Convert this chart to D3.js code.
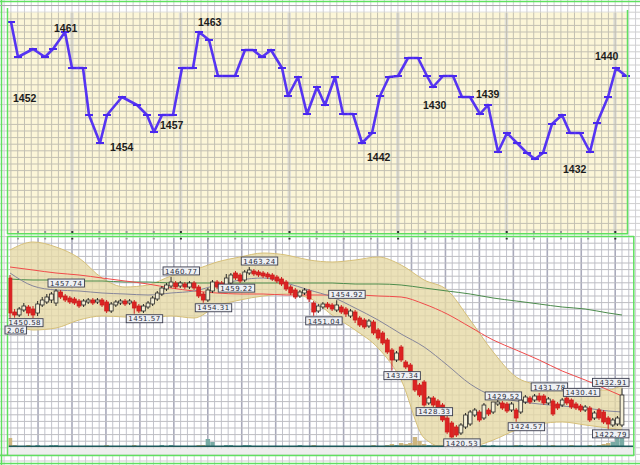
<!DOCTYPE html>
<html><head><meta charset="utf-8">
<script src="https://cdn.jsdelivr.net/npm/d3@7"></script>
<style>html,body{margin:0;padding:0;background:#fff;overflow:hidden}svg{display:block}</style>
</head><body><svg id="c" width="640" height="465"></svg>
<script>
// ---------- top panel: line series ----------
const topT = [0,7,22,34,42,54,61,72,78,89,96,111,126,136,143,151,162,171,182,188,198,207,216,224,234,242,251,260,271,277,287,296,306,314,324,332,342,351,361,369,378,387,397,407,416,422,432,442,451,459,469,477,487,496,506,516,524,532,541,551,559,569,579,586,597,605,615];
const topV = [210,175,183,175,183,200,164,164,117,89,117,135,127,117,100,117,117,164,164,200,192,156,156,156,182,182,175,182,164,136,155,118,145,127,155,118,118,89,99,136,155,156,174,174,156,145,156,156,135,135,118,127,80,99,89,79,73,79,108,117,99,99,80,109,135,164,156];
const topLabels = ["1452","1461","1454","1457","1463","1442","1430","1439","1432","1440"];
const topLabelT = [2,43,99,149,187,356,412,465,552,584];
const topLabelV = [130,200,81,103,206,71,123,134,59,172];

// ---------- bottom panel: candles ----------
const opens = [1460.5,1452,1451.25,1452.5,1453.25,1452.75,1451.75,1453.75,1454.5,1455,1454.25,1457,1456,1455.5,1455.25,1454.75,1453.75,1454.5,1455,1454.5,1455,1454.5,1452.25,1453.75,1454.25,1454.75,1454.25,1454.5,1453.5,1452.25,1453.25,1454,1455.25,1456.5,1457.75,1458.5,1459.25,1458.5,1459,1458.25,1459.25,1458.25,1456.5,1455,1457.25,1459.5,1459.25,1457.5,1459.25,1461.75,1461.25,1460,1461.75,1462.25,1462,1461.75,1461.5,1461.25,1460.75,1460.25,1459.5,1458.25,1457.5,1456,1456.75,1457.25,1454.25,1452.25,1453.25,1454,1453.75,1452.5,1453.25,1452.75,1451,1452,1450.5,1450,1448.5,1449.5,1447.5,1446.75,1445,1442.5,1440,1443.25,1439.5,1438.75,1436.25,1433.75,1434.5,1429.25,1430.5,1429.75,1428.75,1425.5,1424.25,1423.25,1421.75,1423.25,1424,1426.25,1427,1425.5,1427.5,1427,1429,1429.25,1429,1427.5,1427.5,1427,1429.5,1430.5,1430,1431,1431,1429.25,1429.75,1429,1428.75,1430.5,1430,1429,1428.5,1427.5,1428,1425.5,1427.5,1427,1425.5,1423.75,1424,1423.75];
const closes = [1451.75,1451.25,1452.75,1453.5,1451.75,1451.25,1454,1455,1455.75,1456.5,1457.25,1455.75,1455,1454.5,1454.25,1453.5,1454.75,1455,1454.25,1455,1453.75,1452.25,1454,1454.5,1454.75,1454,1454.75,1453,1452.25,1453.5,1454.25,1455.5,1456.75,1458,1458.75,1459.5,1458.25,1459.25,1458.25,1459.25,1458,1456,1455,1457.5,1459.5,1458.25,1457.75,1460.5,1461.25,1460.5,1459.75,1462,1462.5,1461.5,1461.25,1461,1460.75,1460.25,1459.75,1459,1457.75,1456.75,1455.75,1457,1457.5,1455.25,1452,1453.5,1454,1453.25,1452.75,1453.75,1452,1451.5,1452.25,1450,1448.75,1448.25,1449.75,1446.75,1445.5,1444.25,1442,1440,1441.75,1440,1438.25,1437,1432.5,1431.25,1428.75,1430.5,1428.75,1427,1425,1422,1420.75,1421.25,1423.75,1426.25,1427,1427.5,1425,1428.75,1426.5,1429.5,1429.5,1428,1427.25,1429,1425.5,1430,1430.75,1429.5,1431,1430,1429.25,1430.25,1426.5,1428,1430,1429.25,1428.25,1428,1427.5,1428.25,1425,1426.75,1425.5,1424.5,1424,1425,1425.5,1431.25];
const highs = [1461.25,1452.75,1453.25,1454.25,1453.75,1453.5,1454.75,1455.75,1456.5,1457,1457.74,1457.5,1456.5,1456,1455.75,1455.25,1455.25,1455.5,1455.5,1455.5,1455.5,1455,1454.5,1455,1455.25,1455.25,1455.25,1455,1454,1454,1454.75,1456,1457.25,1458.5,1459.25,1460.77,1459.75,1459.75,1459.5,1459.75,1459.75,1458.75,1457,1458,1460,1460,1459.75,1461.5,1461.75,1462.25,1461.75,1462.5,1463.24,1462.75,1462.5,1462.25,1462,1461.75,1461.25,1460.75,1460,1458.75,1458,1457.5,1458,1457.75,1454.75,1454,1454.5,1454.5,1454.25,1454.92,1453.75,1453.25,1452.75,1452.5,1451,1450.5,1450.25,1450,1448,1447.25,1445.5,1443,1442.25,1443.75,1440,1439.25,1436.75,1434.25,1435,1431,1431,1430.25,1429.25,1426,1424.75,1423.75,1424.25,1426.75,1427.5,1428,1427.5,1429.25,1428,1429.52,1430,1429.75,1429.5,1429.5,1428,1430.5,1431.25,1431,1431.5,1431.78,1431.5,1430.75,1430.25,1429.5,1430.5,1431,1430.41,1429.5,1429,1428.75,1428.5,1427.25,1428,1427.5,1426,1425.5,1426,1432.91];
const lows = [1450.5,1450.58,1450.75,1452,1451,1450.5,1451,1453.25,1454,1454.25,1453.5,1455.25,1454.5,1454,1453.75,1453,1453.25,1454,1453.75,1454,1453.25,1451.75,1451.75,1453.25,1453.75,1453.5,1453.75,1451.57,1451.75,1451.75,1452.75,1453.5,1454.75,1456,1457.25,1458,1457.75,1458,1457.75,1457.75,1457.5,1455.5,1454.31,1454.5,1456.75,1457.75,1457.25,1459.22,1458.75,1460,1459.25,1459.5,1461.25,1461,1460.75,1460.5,1460.25,1459.75,1459.25,1458.5,1457.25,1456.25,1455.25,1455.5,1456.25,1454.5,1451.04,1451.75,1452.75,1452.75,1452.25,1452,1451.5,1450.75,1450.5,1449.25,1448.25,1447.75,1448,1446.25,1445,1443.75,1441.5,1437.34,1439.5,1439.5,1437.75,1436.5,1432,1430.75,1428.33,1428.75,1428.25,1426.5,1424.5,1421.5,1420.53,1420.75,1421.25,1422.75,1423.5,1425.75,1424.5,1425,1426,1426.5,1428.5,1427.5,1426.75,1427,1424.57,1426.5,1429,1429,1429.5,1429.5,1428.75,1428.75,1426,1427.5,1428.25,1428.75,1427.75,1427.5,1427,1427,1424.5,1425,1425,1424,1422.79,1423.25,1423.5,1423.25];
const volumes = [9,2,1,1,2,1,2,1,1,2,2,1,1,1,1,1,1,1,1,1,1,2,1,1,1,1,1,2,1,1,1,1,1,2,1,2,1,1,1,1,1,2,2,8,5,1,1,2,2,1,1,2,2,1,1,1,1,1,1,1,1,1,1,2,1,1,2,1,1,1,1,1,1,1,1,1,1,1,1,2,1,1,2,3,2,4,3,4,10,6,3,2,2,2,2,3,4,2,2,2,2,1,2,2,1,2,1,1,1,1,2,2,1,1,1,2,1,1,2,1,1,1,2,1,1,1,2,1,2,3,4,5,10,9];

// indicator samples (candle index -> value)
const bandIdx = [0,5,10,15,20,25,30,35,40,45,50,55,60,65,70,75,80,85,90,95,100,105,110,115,120,125,130,133];
const bandUpper = [1467.5,1469.5,1468.25,1465.5,1460.5,1458.25,1458.75,1461,1462.5,1464.5,1465.75,1466.75,1466.25,1465,1464.5,1465,1465.75,1463.75,1460,1457.5,1450,1442,1435.75,1433.75,1433,1432.5,1432.5,1433.75];
const bandLower = [1450,1447.5,1448,1450,1451,1450.75,1450.5,1451,1450.5,1453.5,1455,1456,1456.5,1455.5,1451.25,1447.5,1443,1435,1420.5,1418,1418.25,1420,1422.5,1424,1424.5,1423.75,1423,1422.5];
const maMid = [1461.75,1458.5,1457.5,1457.25,1456.75,1456.5,1456.25,1456.75,1457.25,1458.75,1460,1460.5,1459.25,1457.5,1455.75,1453,1450,1446.5,1443.25,1438.75,1434,1431,1429.75,1429,1428.5,1428,1427.25,1427];
const maRed = [1463.25,1462.5,1461.75,1461.25,1460.5,1459.75,1459,1458,1457.25,1456.75,1456.5,1456.5,1456.25,1456.25,1456.25,1456.25,1456,1455.75,1454,1451.5,1448.25,1445,1442.5,1440,1437.25,1435,1432.5,1431];
const maGreen = [1460.25,1460,1460,1459.75,1459.75,1459.5,1459.5,1459.25,1459.25,1459.25,1459.25,1459.25,1459.25,1459.25,1459.25,1459,1459,1458.75,1458,1457.25,1456.5,1455.5,1454.75,1454,1453.25,1452.75,1451.75,1451.25];

// price labels: candle index and whether it marks the high or the low
const priceLabelIdx = [1,10,27,35,42,47,52,66,71,83,90,96,105,110,115,122,130,133];
const priceLabelKind = ["low","high","low","high","low","low","high","low","high","low","low","low","high","low","high","high","low","high"];
// visible tail of an earlier bar's label at the panel's left edge
const edgeLabelText = "2.06";

// ---------- drawing ----------
const svg = d3.select("#c");
const W = 640, H = 465;
const GREEN = "#5fe05f";

// page background grid
const gBg = svg.append("g");
gBg.append("rect").attr("width",W).attr("height",H).attr("fill","#fff");
const vx = d3.range(4.1, W, 6.79), hy = d3.range(5.6, H, 6.6);
gBg.selectAll(".bv").data(vx).join("line").attr("x1",d=>d).attr("x2",d=>d).attr("y1",0).attr("y2",H)
  .attr("stroke","#cfcfd6").attr("stroke-width",1);
gBg.selectAll(".bh").data(hy).join("line").attr("y1",d=>d).attr("y2",d=>d).attr("x1",0).attr("x2",W)
  .attr("stroke","#cfcfcf").attr("stroke-width",1);

// ---- top panel ----
const TP = {x0:8.5, x1:627, y0:12.5, y1:233};
const xTop = d3.scaleLinear().domain([0,615]).range([11,626]);
const yTop = d3.scaleLinear().domain([0,220]).range([232,12]);
const gT = svg.append("g");
gT.append("rect").attr("x",TP.x0).attr("y",TP.y0).attr("width",TP.x1-TP.x0).attr("height",TP.y1-TP.y0).attr("fill","#fcf6d8");
const majors = d3.range(72, 630, 108.6);
gT.selectAll(".tm").data(majors).join("line").attr("x1",d=>d).attr("x2",d=>d).attr("y1",TP.y0).attr("y2",TP.y1)
  .attr("stroke","#e0dfd8").attr("stroke-width",3.5);
gT.selectAll(".tv").data(vx.filter(d=>d>TP.x0&&d<TP.x1)).join("line").attr("x1",d=>d).attr("x2",d=>d).attr("y1",TP.y0).attr("y2",TP.y1)
  .attr("stroke","#c3c0b2").attr("stroke-width",1);
gT.selectAll(".th").data(hy.filter(d=>d>TP.y0&&d<TP.y1)).join("line").attr("y1",d=>d).attr("y2",d=>d).attr("x1",TP.x0).attr("x2",TP.x1)
  .attr("stroke","#c3c0b2").attr("stroke-width",1);
// small ticks at bottom
gT.selectAll(".tk").data(d3.range(18, 626, 27.15)).join("rect")
  .attr("x",d=>d-1).attr("y",TP.y1-2).attr("width",2).attr("height",2)
  .attr("fill",(d,i)=> (i%4===2)?"#333":"#999");

const topPts = topT.map((t,i)=>[xTop(t), yTop(topV[i])]);
gT.append("path").attr("d", d3.line()(topPts)).attr("fill","none")
  .attr("stroke","#5634f2").attr("stroke-width",2.6).attr("stroke-linejoin","round");
gT.selectAll(".mk").data(topPts).join("line")
  .attr("x1",d=>d[0]-4).attr("x2",d=>d[0]+4).attr("y1",d=>d[1]).attr("y2",d=>d[1])
  .attr("stroke","#4a28ee").attr("stroke-width",2);
gT.selectAll(".tl").data(topLabels).join("text")
  .attr("x",(d,i)=>xTop(topLabelT[i])).attr("y",(d,i)=>yTop(topLabelV[i]))
  .attr("font-family","Liberation Sans, Arial, sans-serif").attr("font-weight","bold").attr("font-size",10.5)
  .attr("fill","#1c1c1c").text(d=>d);

// top panel frame
gT.append("line").attr("x1",7.5).attr("x2",7.5).attr("y1",8).attr("y2",234).attr("stroke",GREEN).attr("stroke-width",1.5);
gT.append("line").attr("x1",627.5).attr("x2",627.5).attr("y1",10).attr("y2",234).attr("stroke",GREEN).attr("stroke-width",1.5);
gT.append("line").attr("x1",7).attr("x2",628).attr("y1",233.8).attr("y2",233.8).attr("stroke",GREEN).attr("stroke-width",1.5);

// ---- bottom panel ----
const BP = {x0:8.5, x1:633, y0:237.5, y1:447};
const xBot = d3.scaleLinear().domain([0,133]).range([10,622]);
const yBot = d3.scaleLinear().domain([1410,1470]).range([480,240]);
const yVol = d3.scaleLinear().domain([0,10]).range([447,437]);
const gB = svg.append("g");
svg.append("clipPath").attr("id","bclip").append("rect").attr("x",BP.x0).attr("y",BP.y0).attr("width",BP.x1-BP.x0).attr("height",BP.y1-BP.y0);
gB.attr("clip-path","url(#bclip)");
gB.append("rect").attr("x",BP.x0).attr("y",BP.y0).attr("width",BP.x1-BP.x0).attr("height",BP.y1-BP.y0).attr("fill","#fff");
gB.selectAll(".bvv").data(vx).join("line").attr("x1",d=>d).attr("x2",d=>d).attr("y1",BP.y0).attr("y2",BP.y1)
  .attr("stroke",(d,i)=> i%5===0 ? "#a9aabb" : "#c2c3cc").attr("stroke-width",(d,i)=> i%5===0 ? 1.6 : 1);
gB.selectAll(".bhh").data(hy).join("line").attr("y1",d=>d).attr("y2",d=>d).attr("x1",BP.x0).attr("x2",BP.x1)
  .attr("stroke","#bdbdc2").attr("stroke-width",1);
gB.selectAll(".btk").data(d3.range(18, 630, 27.15)).join("rect")
  .attr("x",d=>d-1).attr("y",BP.y0).attr("width",2).attr("height",2)
  .attr("fill",(d,i)=> (i%4===2)?"#333":"#999");

// bollinger band
const area = d3.area().curve(d3.curveMonotoneX)
  .x((d,i)=>xBot(bandIdx[i])).y0((d,i)=>yBot(bandLower[i])).y1((d,i)=>yBot(bandUpper[i]));
gB.append("path").attr("d", area(bandIdx)).attr("fill","#e6d9a4").attr("fill-opacity",0.78);
const lineOf = arr => d3.line().curve(d3.curveMonotoneX).x((d,i)=>xBot(bandIdx[i])).y(d=>yBot(d))(arr);
gB.append("path").attr("d", lineOf(bandUpper)).attr("fill","none").attr("stroke","#d6bf78").attr("stroke-width",1);
gB.append("path").attr("d", lineOf(bandLower)).attr("fill","none").attr("stroke","#d6bf78").attr("stroke-width",1);
gB.append("path").attr("d", lineOf(maGreen)).attr("fill","none").attr("stroke","#4c8c4c").attr("stroke-width",1);
gB.append("path").attr("d", lineOf(maRed)).attr("fill","none").attr("stroke","#f04a4a").attr("stroke-width",1);
gB.append("path").attr("d", lineOf(maMid)).attr("fill","none").attr("stroke","#85859a").attr("stroke-width",1);

// volume
const n = Math.min(opens.length, closes.length, highs.length, lows.length);
const idx = d3.range(n);
gB.selectAll(".vol").data(idx).join("rect")
  .attr("x",i=>xBot(i)-2.2).attr("width",4.4)
  .attr("y",i=>yVol(volumes[i]||0)).attr("height",i=>yVol(0)-yVol(volumes[i]||0))
  .attr("fill",i=> closes[i] < opens[i] ? "#cdb57e" : "#78aaa4");
gB.append("line").attr("x1",BP.x0).attr("x2",BP.x1).attr("y1",446.8).attr("y2",446.8).attr("stroke","#1d5a5c").attr("stroke-width",2.4);

// candles
const cg = gB.append("g");
cg.selectAll(".wick").data(idx).join("line")
  .attr("x1",i=>xBot(i)).attr("x2",i=>xBot(i)).attr("y1",i=>yBot(highs[i])).attr("y2",i=>yBot(lows[i]))
  .attr("stroke",i=> closes[i] < opens[i] ? "#cc2020" : "#2a2a2a").attr("stroke-width",1);
cg.selectAll(".body").data(idx).join("rect")
  .attr("x",i=>xBot(i)-1.9).attr("width",3.8)
  .attr("y",i=>yBot(Math.max(opens[i],closes[i])))
  .attr("height",i=>Math.max(1.2, Math.abs(yBot(opens[i])-yBot(closes[i]))))
  .attr("fill",i=> closes[i] < opens[i] ? "#dd2222" : "#f4efd6")
  .attr("stroke",i=> closes[i] < opens[i] ? "#cc1c1c" : "#2a2a2a").attr("stroke-width",0.8);

// price labels
function addLabel(parent, x0, cy, txt, clampRight){
  const g = parent.append("g");
  const t = g.append("text").attr("y",cy+2.7)
    .attr("font-family","DejaVu Sans, sans-serif").attr("font-size",7).attr("letter-spacing",0.5)
    .attr("fill","#2a2c3a").text(txt);
  const w = t.node().getComputedTextLength();
  if (clampRight) x0 = Math.min(x0, BP.x1 - w - 8);
  t.attr("x", x0+2);
  g.insert("rect","text").attr("x",x0).attr("y",cy-4).attr("width",w+4).attr("height",8)
    .attr("fill","#eef0f4").attr("stroke","#3b3d4e").attr("stroke-width",0.9);
}
const lg = gB.append("g");
priceLabelIdx.forEach((ci,k)=>{
  const isHigh = priceLabelKind[k]==="high";
  const v = isHigh ? highs[ci] : lows[ci];
  addLabel(lg, xBot(ci)-8, isHigh ? yBot(v)-6 : yBot(v)+5, v.toFixed(2), true);
});

// bottom frame + outer frame
const gF = svg.append("g");
gF.append("rect").attr("x",8).attr("y",448.5).attr("width",626).attr("height",6).attr("fill","#eeeeee");
gF.append("line").attr("x1",7).attr("x2",634).attr("y1",236.5).attr("y2",236.5).attr("stroke",GREEN).attr("stroke-width",1.5);
gF.append("line").attr("x1",7.5).attr("x2",7.5).attr("y1",236).attr("y2",456).attr("stroke",GREEN).attr("stroke-width",1.5);
gF.append("line").attr("x1",633.8).attr("x2",633.8).attr("y1",236).attr("y2",456).attr("stroke",GREEN).attr("stroke-width",1.5);
gF.append("line").attr("x1",0).attr("x2",634).attr("y1",455.5).attr("y2",455.5).attr("stroke",GREEN).attr("stroke-width",1.5);
gF.append("line").attr("x1",1.5).attr("x2",1.5).attr("y1",0).attr("y2",H).attr("stroke",GREEN).attr("stroke-width",1.5);
gF.append("line").attr("x1",0).attr("x2",W).attr("y1",1.5).attr("y2",1.5).attr("stroke",GREEN).attr("stroke-width",1.5);
gF.append("line").attr("x1",0).attr("x2",W).attr("y1",463.5).attr("y2",463.5).attr("stroke",GREEN).attr("stroke-width",1.5);
gF.append("line").attr("x1",0).attr("x2",W).attr("y1",5.5).attr("y2",5.5).attr("stroke","#aaaaaa").attr("stroke-width",1);
addLabel(gF, xBot(0)-5, yBot(lows[0])+12, edgeLabelText, false);
</script>
</body></html>
